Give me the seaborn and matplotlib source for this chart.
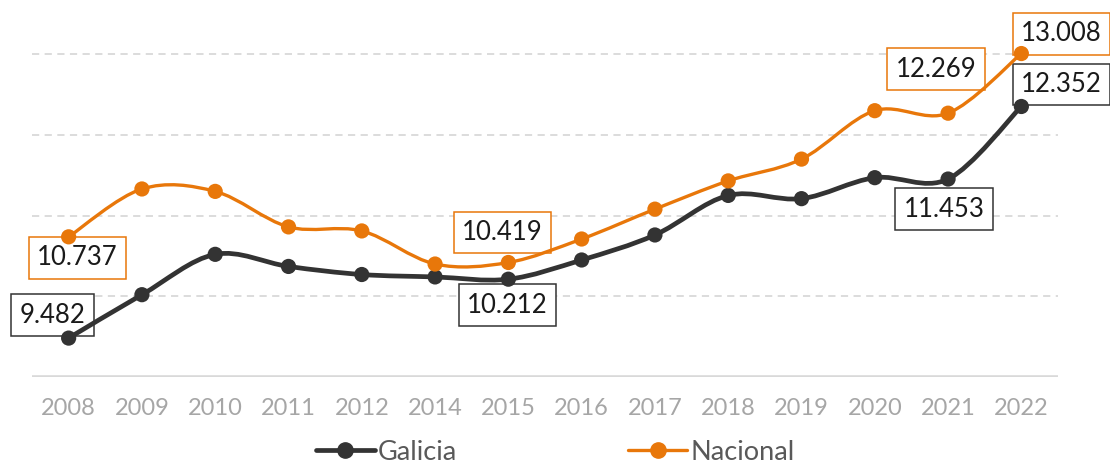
import seaborn as sns
import matplotlib.pyplot as plt
import pandas as pd
from matplotlib.path import Path
from matplotlib.patches import PathPatch
from matplotlib.lines import Line2D


years = ['2008', '2009', '2010', '2011', '2012', '2014', '2015',
         '2016', '2017', '2018', '2019', '2020', '2021', '2022']
galicia = [9.482, 10.02, 10.52, 10.37, 10.27, 10.24, 10.212,
           10.45, 10.76, 11.25, 11.21, 11.47, 11.453, 12.352]
nacional = [10.737, 11.33, 11.30, 10.86, 10.81, 10.40, 10.419,
            10.71, 11.08, 11.43, 11.70, 12.30, 12.269, 13.008]

df = pd.DataFrame({'pos': range(len(years)), 'Galicia': galicia, 'Nacional': nacional})
df_melted = df.melt(id_vars='pos', var_name='Serie', value_name='Valor')

colors = {'Galicia': '#333333', 'Nacional': '#E8770A'}
widths = {'Galicia': 3.4, 'Nacional': 2.4}

sns.set_style('white')
plt.rcParams['font.family'] = ['Lato', 'DejaVu Sans']

fig = plt.figure(figsize=(11.1, 4.66), dpi=100)
ax = fig.add_axes([32 / 1110, 89 / 466, 1026 / 1110, 375 / 466])


def smooth_path(xs, ys):
    # catmull-rom through the points, as bezier segments
    n = len(xs)
    verts = [(xs[0], ys[0])]
    codes = [Path.MOVETO]
    for i in range(n - 1):
        a = max(i - 1, 0)
        b = min(i + 2, n - 1)
        c1 = (xs[i] + (xs[i + 1] - xs[a]) / 6, ys[i] + (ys[i + 1] - ys[a]) / 6)
        c2 = (xs[i + 1] - (xs[b] - xs[i]) / 6, ys[i + 1] - (ys[b] - ys[i]) / 6)
        verts += [c1, c2, (xs[i + 1], ys[i + 1])]
        codes += [Path.CURVE4] * 3
    return Path(verts, codes)


for name in ['Galicia', 'Nacional']:
    path = smooth_path(list(df['pos']), list(df[name]))
    ax.add_patch(PathPatch(path, fc='none', ec=colors[name], lw=widths[name],
                           capstyle='round', joinstyle='round', zorder=3))

sns.scatterplot(data=df_melted, x='pos', y='Valor', hue='Serie', palette=colors,
                s=120, edgecolor='none', legend=False, zorder=4, ax=ax)

# gridlines and base line
for v in [10, 11, 12, 13]:
    ax.axhline(v, color='#d9d9d9', lw=1.3, ls=(0, (4, 3)), zorder=1)
ax.axhline(9, color='#d9d9d9', lw=2.6, zorder=1)

# data labels (under the lines, as in the original)
labels = [
    ('Galicia', 0, -16, 23), ('Nacional', 0, 9, -21),
    ('Galicia', 6, -1, -26), ('Nacional', 6, -6, 30),
    ('Galicia', 12, -4, -30), ('Nacional', 12, -12, 44),
    ('Galicia', 13, 40, 22), ('Nacional', 13, 40, 20),
]
for name, i, dx, dy in labels:
    v = df[name][i]
    ax.annotate(f'{v:.3f}', xy=(i, v), xytext=(dx, dy), textcoords='offset pixels',
                ha='center', va='center', fontsize=18.5, color='#1a1a1a', zorder=2.5,
                bbox=dict(boxstyle='square,pad=0.33', fc='white', ec=colors[name], lw=1.1))

ax.set_xlim(-0.5, len(years) - 0.5)
ax.set_ylim(9, 9 + 375 / 80.7)
ax.set_xticks(range(len(years)))
ax.set_xticklabels(years)
ax.set_yticks([])
ax.tick_params(axis='x', length=0, pad=15, labelsize=17, labelcolor='#a6a6a6')
ax.set_xlabel('')
ax.set_ylabel('')
sns.despine(ax=ax, left=True, bottom=True)

handles = [Line2D([], [], color=colors[n], lw=widths[n], marker='o', markersize=11)
           for n in ['Galicia', 'Nacional']]
fig.legend(handles, ['Galicia', 'Nacional'], loc='center', bbox_to_anchor=(0.5, 0.03),
           ncol=2, frameon=False, fontsize=19.5, labelcolor='#595959',
           handlelength=2.2, handletextpad=0.1, columnspacing=6.3,
           borderpad=0.1)

fig.savefig('out.png', dpi=100)
